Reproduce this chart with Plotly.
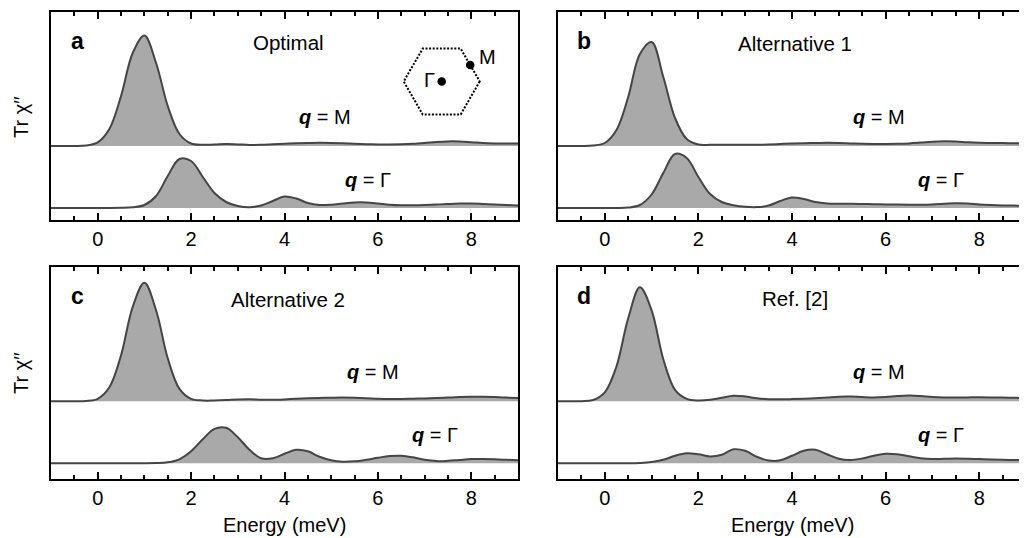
import plotly.graph_objects as go

# The page body has an 8px margin, so the figure is 8px smaller than the window
PAGE_MARGIN = 8
W, H = 1027 - PAGE_MARGIN, 538 - PAGE_MARGIN

# ---------------- data ----------------
energy = [-1.0, -0.75, -0.5, -0.25, 0.0, 0.25, 0.5, 0.75, 1.0, 1.25, 1.5, 1.75,
          2.0, 2.25, 2.5, 2.75, 3.0, 3.25, 3.5, 3.75, 4.0, 4.25, 4.5, 4.75,
          5.0, 5.25, 5.5, 5.75, 6.0, 6.25, 6.5, 6.75, 7.0, 7.25, 7.5, 7.75,
          8.0, 8.25, 8.5, 8.75, 9.0]

# Tr chi'' (arbitrary units) for q = M and q = Gamma in the four panels
optimal_M = [0, 0, 0, 0.5, 3.6, 17, 50, 93, 110.5, 83, 40, 12, 2.5, 1.2, 1.5, 2,
             1.6, 1.1, 1.2, 1.7, 2.2, 2.7, 3, 3.2, 3.1, 2.7, 2.2, 1.8, 1.6, 1.6,
             1.8, 2.2, 3, 4, 4.6, 4.5, 3.8, 3, 2.6, 2.5, 2.5]
optimal_G = [0, 0, 0, 0, 0, 0, 0.2, 0.8, 3, 12, 32, 49, 47, 31, 15, 6, 2, 0.8,
             2.5, 7, 11.5, 9.5, 5, 3, 3.3, 4.5, 5.5, 5.5, 4.5, 3.3, 2.7, 2.7, 3,
             3.5, 4, 4.4, 4.5, 4.1, 3.6, 3, 2.6]
alt1_M = [0, 0, 0, 0.4, 3, 16, 49, 92, 104, 69, 28, 7, 1.5, 1.2, 1.3, 1.3, 1.2,
          1.2, 1.5, 2, 2.5, 2.8, 3, 3.2, 3, 2.6, 2.2, 2, 2, 2.2, 2.6, 3.4, 4.3,
          4.7, 4.4, 3.7, 3.2, 3, 2.9, 2.8, 2.7]
alt1_G = [0, 0, 0, 0, 0, 0, 0.4, 3, 13.5, 35, 54, 50, 31, 14, 6, 2.8, 1.2, 0.9,
          2.5, 7, 10.5, 9, 6, 4.6, 4.3, 4.2, 4, 3.8, 3.6, 3.4, 3.3, 3.3, 3.6,
          4.2, 4.8, 4.5, 3.6, 3, 2.6, 2.4, 2.2]
alt2_M = [0, 0, 0, 0.3, 2.5, 14, 46, 94.5, 118.5, 91, 43, 12.5, 2.5, 0.8, 0.8,
          1.2, 1.8, 2, 1.6, 1.5, 1.9, 2.5, 3, 3.4, 3.6, 3.7, 3.5, 3.1, 2.5, 2.2,
          2.3, 2.6, 2.9, 3.2, 3.7, 4.2, 4.5, 4.5, 4.2, 3.7, 3.2]
alt2_G = [0, 0, 0, 0, 0, 0, 0, 0, 0, 0.2, 1, 4, 12, 24, 34.5, 35.5, 26, 13.5, 5,
          5, 9.5, 13.5, 12, 6.5, 3, 1.6, 2, 3.5, 5.5, 7.2, 7.6, 6, 3.5, 2.2, 2.5,
          3.4, 4.2, 4.3, 4, 3.5, 3]
ref2_M = [0, 0, 0.1, 1.3, 9, 35, 83, 114, 91, 42, 11.5, 2.5, 0.8, 1.5, 3.5, 5.5,
          4.8, 3, 2, 2, 2.2, 2.5, 3, 3.8, 4.6, 4.8, 4.2, 3.8, 4.2, 5.2, 5.8, 5.2,
          4.2, 3.8, 3.8, 3.9, 4, 3.9, 3.7, 3.5, 3.3]
ref2_G = [0, 0, 0, 0, 0, 0, 0, 0.3, 1.2, 3.5, 7.5, 10, 9, 6.8, 8.5, 14, 12.5,
          6.5, 2.8, 3, 7.5, 12.5, 13.5, 9, 4.5, 3.3, 4.8, 7.5, 9.5, 9, 7, 5, 4.2,
          4.5, 4.8, 4.6, 4.2, 3.8, 3.5, 3.3, 3]

panel_letters = ["a", "b", "c", "d"]
panel_titles = ["Optimal", "Alternative 1", "Alternative 2", "Ref. [2]"]
series_M = [optimal_M, alt1_M, alt2_M, ref2_M]
series_G = [optimal_G, alt1_G, alt2_G, ref2_G]
x_ticks = [0, 2, 4, 6, 8]

# ---------------- styling / layout ----------------
FONT = "Liberation Sans, Arial, Helvetica, sans-serif"
LINE_COL = "#454545"
FILL_COL = "#a9a9a9"
OFFSET_M = 62.0   # vertical offset of the q = M curve
OFFSET_G = 0.0

# panel boxes in window pixels: (left, right, top, bottom)
boxes = [(51, 518, 12, 220), (558, 1026, 12, 220),
         (51, 518, 267, 479), (558, 1026, 267, 479)]
yranges = [[-12, 196], [-12, 196], [-15.7, 196.3], [-15.7, 196.3]]


def px(x):
    return (x - PAGE_MARGIN) / W


def py(y):
    return 1 - (y - PAGE_MARGIN) / H


fig = go.Figure()
layout = dict(width=W, height=H, margin=dict(l=0, r=0, t=0, b=0),
              paper_bgcolor="white", plot_bgcolor="white", showlegend=False,
              font=dict(family=FONT, size=20, color="black"))

for i in range(4):
    n = "" if i == 0 else str(i + 1)
    xa, ya = "x" + n, "y" + n
    for vals, off in ((series_M[i], OFFSET_M), (series_G[i], OFFSET_G)):
        fig.add_trace(go.Scatter(x=energy, y=[off] * len(energy), mode="lines",
                                 line=dict(width=0, color=FILL_COL),
                                 xaxis=xa, yaxis=ya, hoverinfo="skip"))
        fig.add_trace(go.Scatter(x=energy, y=[off + v for v in vals], mode="lines",
                                 line=dict(width=2, color=LINE_COL, shape="spline",
                                           smoothing=1.0),
                                 fill="tonexty", fillcolor=FILL_COL,
                                 xaxis=xa, yaxis=ya))
    l, r, t, b = boxes[i]
    layout["xaxis" + n] = dict(
        domain=[px(l), min(px(r), 1.0)], range=[-1, 9], anchor=ya,
        tickvals=x_ticks, ticks="inside", ticklen=7, tickwidth=2, tickcolor="black",
        minor=dict(dtick=0.5, tick0=0, ticks="inside", ticklen=4, tickwidth=2,
                   tickcolor="black"),
        showline=True, linewidth=2, linecolor="black", mirror="ticks",
        showgrid=False, zeroline=False,
        tickfont=dict(family=FONT, size=20, color="black"))
    layout["yaxis" + n] = dict(
        domain=[py(b), py(t)], range=yranges[i], anchor=xa,
        showticklabels=False, ticks="", showline=True, linewidth=2,
        linecolor="black", mirror=True, showgrid=False, zeroline=False)

annotations = []


def text(s, x, y, size=20, angle=0):
    annotations.append(dict(text=s, x=px(x), y=py(y), xref="paper", yref="paper",
                            xanchor="center", yanchor="middle", showarrow=False,
                            textangle=angle,
                            font=dict(family=FONT, size=size, color="black")))


letter_pos = [(77, 41), (584, 41), (77, 296), (584, 296)]
title_pos = [(288, 43), (795, 44), (288, 299), (795, 298)]
qM_pos = [(325, 117), (879, 117), (373, 372), (879, 372)]
qG_pos = [(368, 180), (941, 180), (435, 435), (941, 435)]
for i in range(4):
    text("<b>%s</b>" % panel_letters[i], *letter_pos[i], size=23)
    text(panel_titles[i], *title_pos[i], size=20.5)
    text("<b><i>q</i></b> = M", *qM_pos[i])
    text("<b><i>q</i></b> = Γ", *qG_pos[i])

text("Tr χ′′", 21, 117, angle=-90)
text("Tr χ′′", 21, 373, angle=-90)
text("Energy (meV)", 284.5, 525)
text("Energy (meV)", 792, 525)

# Brillouin-zone inset (panel a)
hx, hy, R = 441.7, 81.5, 38.0
s3 = 0.8660254
verts = [(hx + R, hy), (hx + R / 2, hy + R * s3), (hx - R / 2, hy + R * s3),
         (hx - R, hy), (hx - R / 2, hy - R * s3), (hx + R / 2, hy - R * s3)]
path = "M " + " L ".join("%.5f,%.5f" % (px(vx), py(vy)) for vx, vy in verts) + " Z"
shapes = [dict(type="path", path=path, xref="paper", yref="paper",
               line=dict(color="black", width=2, dash="2px,1.6px"))]
dot_r = 4.3
gamma_pt = (hx, hy)
m_pt = ((verts[0][0] + verts[5][0]) / 2, (verts[0][1] + verts[5][1]) / 2)
for cx, cy in (gamma_pt, m_pt):
    shapes.append(dict(type="circle", xref="paper", yref="paper",
                       x0=px(cx - dot_r), x1=px(cx + dot_r),
                       y0=py(cy + dot_r), y1=py(cy - dot_r),
                       fillcolor="black", line=dict(color="black", width=0)))
text("Γ", 429, 80)
text("M", 487, 57)

layout["annotations"] = annotations
layout["shapes"] = shapes
fig.update_layout(**layout)
fig.write_html("out.html")
